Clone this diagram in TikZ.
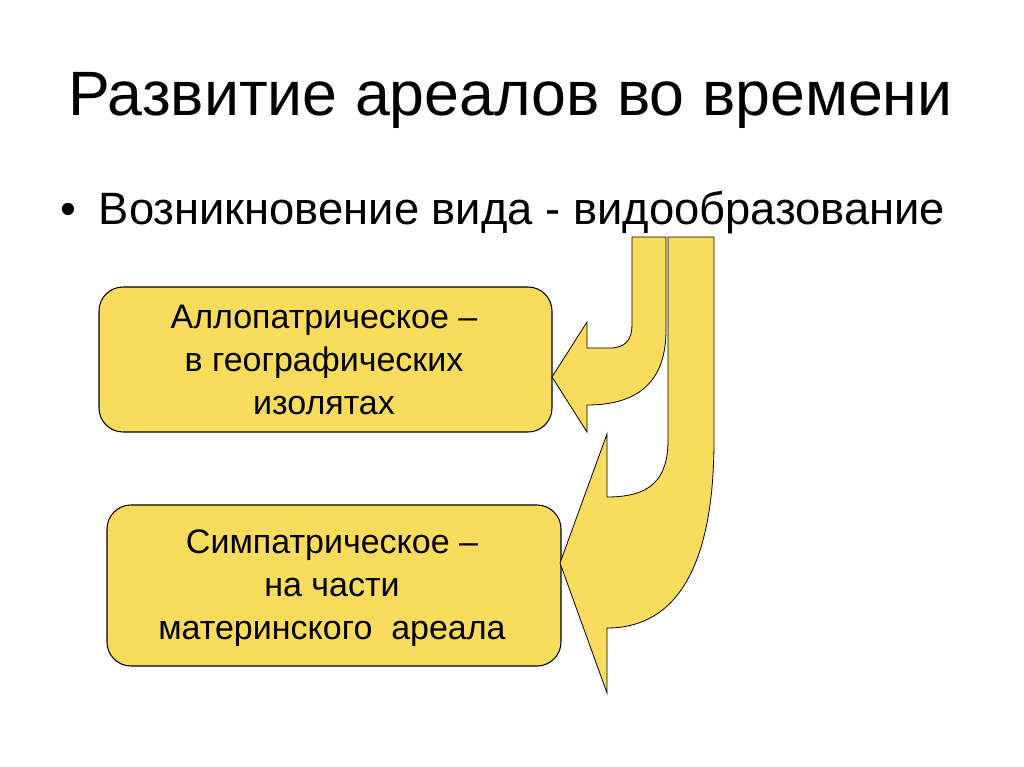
\documentclass[tikz,border=0pt]{standalone}
\usepackage{fontspec}
\setmainfont{Liberation Sans}
\begin{document}
\begin{tikzpicture}[x=0.75pt,y=-0.75pt,
  box/.style={draw=black,fill=yellowf,rounded corners=18pt,line width=0.8pt},
  arr/.style={draw=black,fill=yellowf,line width=0.6pt,line join=miter},
  txt/.style={align=center,font=\fontsize{25.5}{32}\selectfont}]
\definecolor{yellowf}{HTML}{F9DC5C}
\useasboundingbox[fill=white] (0,0) rectangle (1024,767);
\node[anchor=west,inner sep=0pt,font=\fontsize{47}{52}\selectfont] (title) at (68,100) {Развитие ареалов во времени};
\node[anchor=west,inner sep=0pt,font=\fontsize{34}{40}\selectfont] (bul) at (60,213) {•\hspace{17pt}Возникновение вида - видообразование};
\draw[box] (99,287) rectangle (552,432);
\node[txt] (a) at (324,360) {Аллопатрическое –\\в географических\\изолятах};
\draw[box] (107,505) rectangle (561,666);
\node[txt] (s) at (332,588) {Симпатрическое –\\на части\\материнского\ \ ареала};
% arrow 2
\draw[arr] (668,237) -- (714,237) -- (714,440) .. controls (714,560) and (680,628) .. (607,628)
  -- (607,693) -- (560,563) -- (607,434) -- (607,497) .. controls (650,497) and (668,480) .. (668,440) -- cycle;
% arrow 1
\draw[arr] (632,237) -- (666,237) -- (666,330) .. controls (666,380) and (640,405) .. (587,405)
  -- (587,432) -- (552,377) -- (587,322) -- (587,348) -- (610,348) .. controls (625,348) and (632,340) .. (632,325) -- cycle;
\end{tikzpicture}
\end{document}
